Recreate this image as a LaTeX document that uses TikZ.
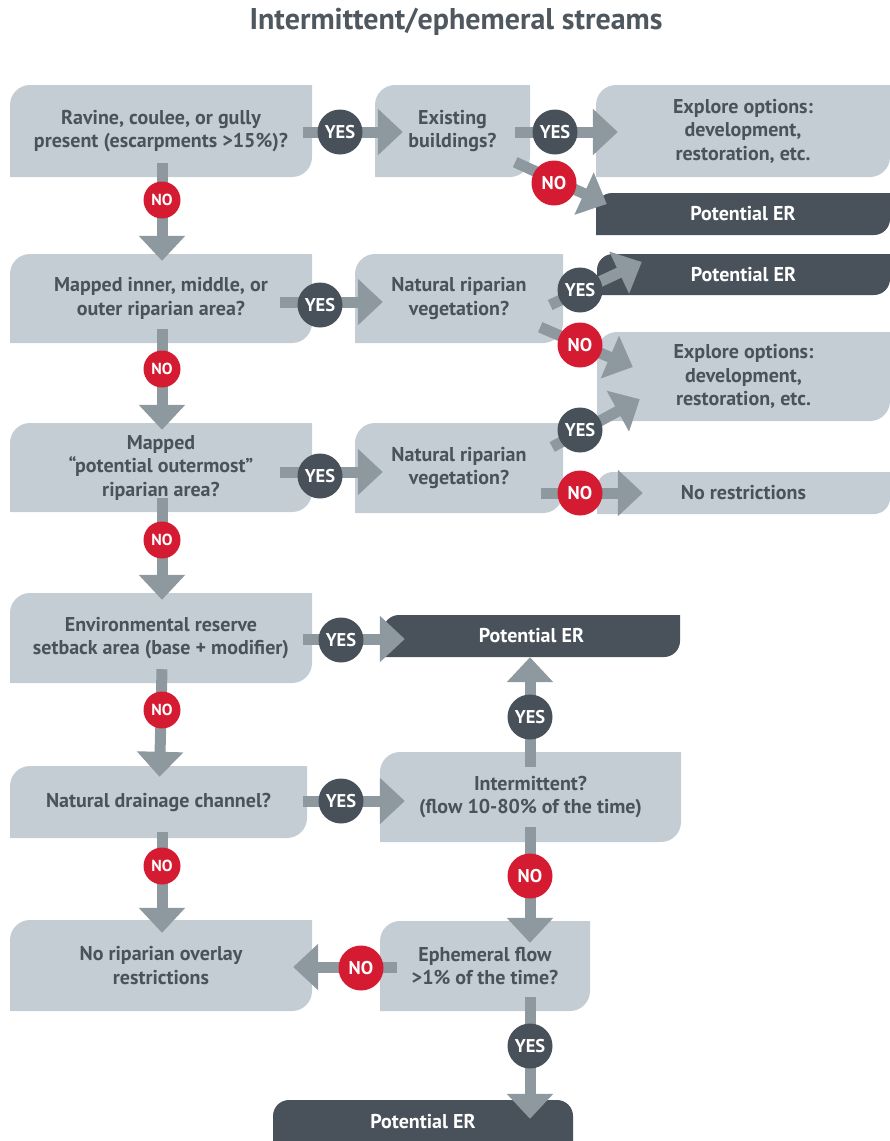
\documentclass[tikz,border=0pt]{standalone}
\usepackage{fontspec}
\setmainfont{PT Sans}
\usetikzlibrary{arrows.meta,calc}
\definecolor{boxc}{HTML}{C5CDD4}
\definecolor{darkc}{HTML}{49525A}
\definecolor{txtc}{HTML}{4A525A}
\definecolor{arrc}{HTML}{8D999F}
\definecolor{redc}{HTML}{D51B32}
\definecolor{yesc}{HTML}{48515A}
\definecolor{titc}{HTML}{4F575F}
% name, x1, y1, x2, y2, fill, text colour, radius, text
\newcommand\bx[9]{%
  \fill[#6] (#2,#5) -- (#2,#3+#8) arc[start angle=180,end angle=270,radius=#8] -- (#4,#3) -- (#4,#5-#8) arc[start angle=0,end angle=90,radius=#8] -- cycle;
  \node[boxtxt, text=#7, minimum width={(#4-#2)*1pt}, minimum height={(#5-#3)*1pt}] (#1) at ({(#2+#4)/2},{(#3+#5)/2}) {#9};
}
\begin{document}
\begin{tikzpicture}[x=1pt,y=-1pt,
  boxtxt/.style={rectangle, inner sep=0pt, align=center, font=\fontsize{20}{23.5}\selectfont\bfseries},
  arr/.style={draw=arrc, line width=11pt, -{Triangle[length=25pt,width=45pt]}},
  yesb/.style={circle, fill=yesc, minimum size=45pt, inner sep=0pt, text=white, font=\fontsize{18.5}{18.5}\selectfont\bfseries},
  nob/.style={circle, fill=redc, minimum size=45pt, inner sep=0pt, text=white, font=\fontsize{18.5}{18.5}\selectfont\bfseries},
  nos/.style={circle, fill=redc, minimum size=37pt, inner sep=0pt, text=white, font=\fontsize{16}{16}\selectfont\bfseries}]
\useasboundingbox (0,0) rectangle (890,1141);
\node[text=titc, font=\fontsize{30}{32}\selectfont\bfseries] (title) at (456,22) {Intermittent/ephemeral streams};
% boxes
\bx{a1}{10}{85}{312}{177}{boxc}{txtc}{20}{Ravine, coulee, or gully\\present (escarpments >15\%)?}
\bx{a2}{375}{85}{530}{177}{boxc}{txtc}{20}{Existing\\buildings?}
\bx{a3}{596}{85}{890}{177}{boxc}{txtc}{20}{Explore options:\\development,\\restoration, etc.}
\bx{p1}{596}{193}{890}{235}{darkc}{white}{16}{Potential ER}
\bx{b1}{10}{254}{312}{343}{boxc}{txtc}{20}{Mapped inner, middle, or\\outer riparian area?}
\bx{b2}{355}{254}{563}{343}{boxc}{txtc}{20}{Natural riparian\\vegetation?}
\bx{p2}{597}{254}{890}{295}{darkc}{white}{16}{Potential ER}
\bx{x2}{597}{332}{890}{421}{boxc}{txtc}{20}{Explore options:\\development,\\restoration, etc.}
\bx{c1}{10}{423}{312}{512}{boxc}{txtc}{20}{Mapped\\“potential outermost”\\riparian area?}
\bx{c2}{355}{423}{563}{513}{boxc}{txtc}{20}{Natural riparian\\vegetation?}
\bx{nr}{597}{472}{890}{514}{boxc}{txtc}{16}{No restrictions}
\bx{d1}{10}{593}{312}{683}{boxc}{txtc}{20}{Environmental reserve\\setback area (base + modifier)}
\bx{p3}{383}{615}{680}{657}{darkc}{white}{16}{Potential ER}
\bx{e1}{10}{766}{307}{838}{boxc}{txtc}{20}{Natural drainage channel?}
\bx{e2}{380}{752}{681}{842}{boxc}{txtc}{20}{Intermittent?\\(flow 10-80\% of the time)}
\bx{f1}{10}{920}{312}{1011}{boxc}{txtc}{20}{No riparian overlay\\restrictions}
\bx{f2}{380}{921}{590}{1011}{boxc}{txtc}{20}{Ephemeral flow\\>1\% of the time?}
\fill[darkc] (273,1141) -- (273,1116) arc[start angle=180,end angle=270,radius=16] -- (557,1100) arc[start angle=270,end angle=360,radius=16] -- (573,1141) -- cycle;
\node[boxtxt, text=white, minimum width=300pt, minimum height=42pt] (p4) at (423,1122) {Potential ER};
% connectors
\draw[arr] ($(a1.east)+(-9,1)$) -- ($(a2.west)+(28,1)$);
\draw[arr] ($(a2.east)+(-15,1)$) -- ($(a3.west)+(22,1)$);
\draw[arr] ($(a2.south east)+(-15,-15)$) -- ($(p1.west)+(11,-10)$);
\draw[arr] ($(a1.south)+(1,-14)$) -- ($(b1.north)+(1,7)$);
\draw[arr] ($(b1.east)+(-32,3.5)$) -- ($(b2.west)+(28,3.5)$);
\draw[arr] ($(b2.east)+(-13,6.5)$) -- ($(p2.west)+(45,-12.5)$);
\draw[arr] ($(b2.south east)+(-23,-16)$) -- ($(x2.west)+(36,-9.5)$);
\draw[arr] ($(b1.south)+(1,-14)$) -- ($(c1.north)+(1,7)$);
\draw[arr] ($(c1.east)+(-32,4.5)$) -- ($(c2.west)+(28,4)$);
\draw[arr] ($(c2.east)+(-11,-21)$) -- ($(x2.south west)+(43,-22)$);
\draw[arr] ($(c2.east|-nr.west)+(-22,0)$) -- ($(nr.west)+(46,0)$);
\draw[arr] ($(c1.south)+(1,-14)$) -- ($(d1.north)+(1,7)$);
\draw[arr] ($(d1.east)+(-9,1)$) -- ($(p3.west)+(22,3)$);
\draw[arr] ($(d1.south)+(1,-14)$) -- ($(e1.north)+(1,11)$);
\draw[arr] ($(e1.east)+(-4,-1)$) -- ($(e2.west)+(25,4)$);
\draw[arr] ($(e2.north)+(-0.5,15)$) -- ($(p3.south)+(-1.5,0)$);
\draw[arr] ($(e2.south)+(-0.5,-15)$) -- ($(e2.south|-f2.north)+(-0.5,22)$);
\draw[arr] ($(e1.south)+(3.5,-6)$) -- ($(f1.north)+(1,13)$);
\draw[arr] ($(f2.west)+(17,1)$) -- ($(f1.east)+(-19,1.5)$);
\draw[arr] ($(f2.south)+(45,-14)$) -- ($(p4.north)+(107,18)$);
% decision labels
\node[yesb] (y1) at (340,132) {YES};
\node[yesb] (y2) at (555,132) {YES};
\node[nob] (n1) at (554,183) {NO};
\node[nos] (n2) at (162,200) {NO};
\node[yesb] (y3) at (320,305) {YES};
\node[yesb] (y4) at (580,290) {YES};
\node[nob] (n3) at (580,345) {NO};
\node[nos] (n4) at (162,369) {NO};
\node[yesb] (y5) at (320,476) {YES};
\node[yesb] (y6) at (580,430) {YES};
\node[nob] (n5) at (580,493) {NO};
\node[nos] (n6) at (162,540) {NO};
\node[yesb] (y7) at (341,640) {YES};
\node[nos] (n7) at (162,710) {NO};
\node[yesb] (y8) at (341,801) {YES};
\node[yesb] (y9) at (530,717) {YES};
\node[nob] (n8) at (530,876) {NO};
\node[nos] (n9) at (162,866) {NO};
\node[nob] (n10) at (361,968) {NO};
\node[yesb] (y10) at (530,1046) {YES};
\end{tikzpicture}
\end{document}
